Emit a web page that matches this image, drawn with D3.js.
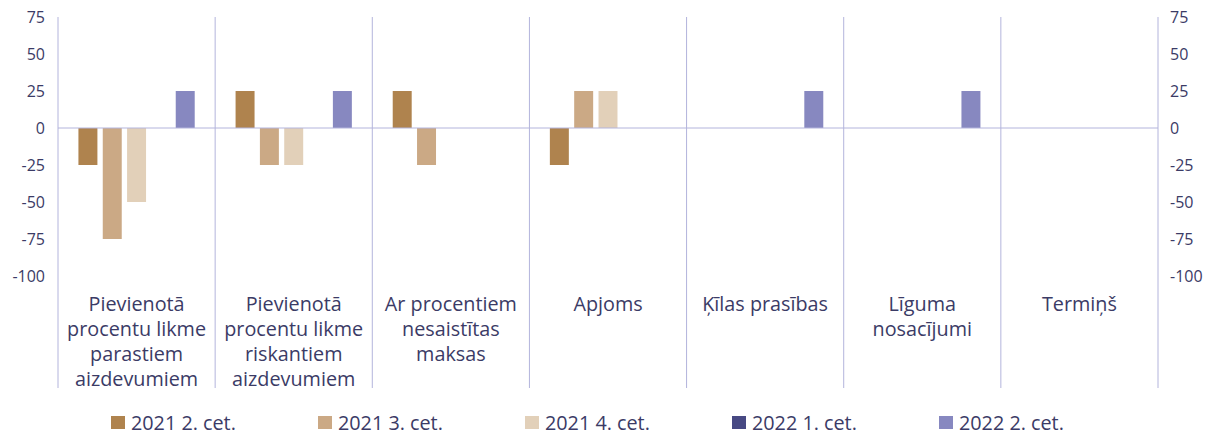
<!DOCTYPE html>
<html><head><meta charset="utf-8">
<script src="https://cdn.jsdelivr.net/npm/d3@7"></script>
<style>body{margin:0;background:#fff}svg{display:block}text{font-family:"Open Sans",sans-serif;fill:#3b3b66}</style>
</head><body><svg id="c" width="1212" height="434"></svg>
<script>
const categories = ["Pievienotā\nprocentu likme\nparastiem\naizdevumiem","Pievienotā\nprocentu likme\nriskantiem\naizdevumiem","Ar procentiem\nnesaistītas\nmaksas","Apjoms","Ķīlas prasības","Līguma\nnosacījumi","Termiņš"];
const seriesNames = ["2021 2. cet.","2021 3. cet.","2021 4. cet.","2022 1. cet.","2022 2. cet."];
const s2021q2 = [-25, 25, 25, -25, 0, 0, 0];
const s2021q3 = [-75, -25, -25, 25, 0, 0, 0];
const s2021q4 = [-50, -25, 0, 25, 0, 0, 0];
const s2022q1 = [0, 0, 0, 0, 0, 0, 0];
const s2022q2 = [25, 25, 0, 0, 25, 25, 0];
const yTicks = [75, 50, 25, 0, -25, -50, -75, -100];
const colors = ["#af834e","#cba985","#e2d0b9","#474983","#8788c0"];

(function(){
const series = [s2021q2, s2021q3, s2021q4, s2022q1, s2022q2];
const svg = d3.select("#c");
const pLeft = 58, pRight = 1158, pTop = 17, pBottom = 276;
const gridColor = "#b3b4dc";
const x0 = d3.scaleBand().domain(categories).range([pLeft, pRight]);
const x1 = d3.scaleBand().domain(seriesNames).range([0, x0.bandwidth()]).paddingInner(0.22).paddingOuter(0.84);
const y = d3.scaleLinear().domain([-100, 75]).range([pBottom, pTop]);

// separators
const seps = categories.map(c => x0(c)).concat([pRight]);
svg.append("g").selectAll("line").data(seps).join("line")
  .attr("x1", d => d).attr("x2", d => d).attr("y1", pTop).attr("y2", 388)
  .attr("stroke", gridColor).attr("stroke-width", 1);

// bars
const g = svg.append("g");
categories.forEach((c, i) => {
  series.forEach((s, j) => {
    const v = s[i];
    if (v === 0) return;
    g.append("rect")
      .attr("x", x0(c) + x1(seriesNames[j]))
      .attr("width", x1.bandwidth())
      .attr("y", y(Math.max(0, v)))
      .attr("height", Math.abs(y(v) - y(0)))
      .attr("fill", colors[j]);
  });
});

// zero line
svg.append("line").attr("x1", pLeft).attr("x2", pRight).attr("y1", y(0)).attr("y2", y(0))
  .attr("stroke", gridColor).attr("stroke-width", 1);

// axes
const fmt = d => String(d);
const axL = svg.append("g").attr("transform", `translate(${pLeft},0)`)
  .call(d3.axisLeft(y).tickValues(yTicks).tickFormat(fmt).tickSize(0).tickPadding(13));
axL.select(".domain").remove();
axL.selectAll("text").attr("font-size", 16).style("font-family", '"Open Sans",sans-serif').attr("fill", "#3b3b66");
const axR = svg.append("g").attr("transform", `translate(${pRight},0)`)
  .call(d3.axisRight(y).tickValues(yTicks).tickFormat(fmt).tickSize(0).tickPadding(12));
axR.select(".domain").remove();
axR.selectAll("text").attr("font-size", 16).style("font-family", '"Open Sans",sans-serif').attr("fill", "#3b3b66");

// category labels
categories.forEach(c => {
  const lines = c.split("\n");
  const cx = x0(c) + x0.bandwidth() / 2;
  const t = svg.append("text").attr("text-anchor", "middle").attr("font-size", 19.8)
    .attr("x", cx).attr("y", 311);
  lines.forEach((l, k) => t.append("tspan").attr("x", cx).attr("dy", k === 0 ? 0 : 25).text(l));
});

// legend
const legendScale = d3.scalePoint().domain(seriesNames).range([111, 939]);
const lg = svg.append("g");
seriesNames.forEach((n, j) => {
  const lx = legendScale(n);
  lg.append("rect").attr("x", lx).attr("y", 416).attr("width", 14).attr("height", 13).attr("fill", colors[j]);
  lg.append("text").attr("x", lx + 20).attr("y", 430).attr("font-size", 19.8).text(n);
});
})();
</script></body></html>
